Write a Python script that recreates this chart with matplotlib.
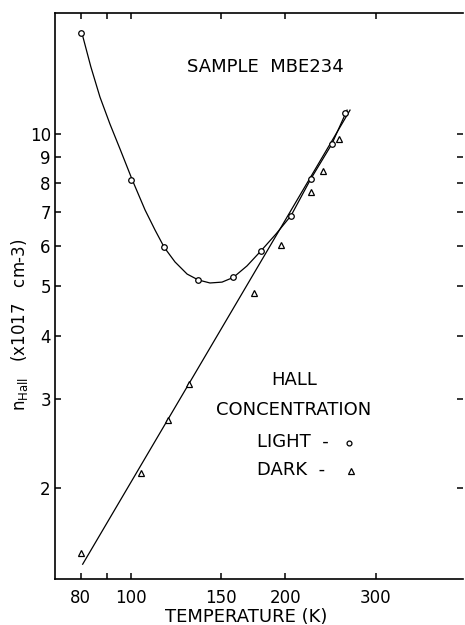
import matplotlib
matplotlib.use('Agg')
from matplotlib import pyplot as plt
from matplotlib.ticker import FixedLocator, FixedFormatter, NullLocator

plt.rcParams['font.family'] = ['DejaVu Sans']
plt.rcParams['mathtext.default'] = 'regular'

LIGHT_T = [80, 100, 116, 135, 158, 179, 205, 224, 246, 261]
LIGHT_N = [15.85, 8.11, 5.97, 5.15, 5.21, 5.88, 6.90, 8.15, 9.54, 11.02]
DARK_T = [80, 105, 118.5, 130, 173.4, 196, 224.3, 237, 254.6]
DARK_N = [1.486, 2.145, 2.725, 3.21, 4.85, 6.05, 7.69, 8.46, 9.76]

# hand-drawn guide curve through the light points
LIGHT_CURVE_T = [80.4, 83.7, 87.2, 91.2, 95.4, 100.8, 106.7, 111.6, 116.3, 122.0, 128.8,
                 135.4, 142.7, 150.6, 158.4, 168.4, 179.3, 191.8, 205.1, 224.0, 246.0, 263.6]
LIGHT_CURVE_N = [15.85, 13.58, 11.83, 10.46, 9.34, 8.11, 7.08, 6.46, 5.97, 5.59, 5.29,
                 5.15, 5.08, 5.10, 5.21, 5.49, 5.88, 6.35, 6.90, 8.15, 9.54, 11.15]
# straight line through the dark points
DARK_LINE_T = [80.7, 267.1]
DARK_LINE_N = [1.414, 11.15]

X_TICKS = [80, 90, 100, 150, 200, 300]
X_LABELS = ['80', '', '100', '150', '200', '300']
Y_TICKS = [2, 3, 4, 5, 6, 7, 8, 9, 10]
Y_LABELS = ['2', '3', '4', '5', '6', '7', '8', '9', '10']


def main():
    fig = plt.figure(figsize=(4.65, 6.25), dpi=100)
    ax = fig.add_axes([0.1183, 0.0736, 0.8774, 0.9056])

    ax.plot(LIGHT_CURVE_T, LIGHT_CURVE_N, color='black', lw=0.9, zorder=2)
    ax.plot(DARK_LINE_T, DARK_LINE_N, color='black', lw=0.9, zorder=2)
    ax.plot(LIGHT_T, LIGHT_N, 'o', mfc='white', mec='black', ms=4, mew=0.9, zorder=3)
    ax.plot(DARK_T, DARK_N, '^', mfc='white', mec='black', ms=4.5, mew=0.9, zorder=3)

    ax.set_xscale('log')
    ax.set_yscale('log')
    ax.set_xlim(71.3, 442.9)
    ax.set_ylim(1.322, 17.34)

    ax.xaxis.set_major_locator(FixedLocator(X_TICKS))
    ax.xaxis.set_major_formatter(FixedFormatter(X_LABELS))
    ax.xaxis.set_minor_locator(NullLocator())
    ax.yaxis.set_major_locator(FixedLocator(Y_TICKS))
    ax.yaxis.set_major_formatter(FixedFormatter(Y_LABELS))
    ax.yaxis.set_minor_locator(NullLocator())

    ax.tick_params(axis='both', which='major', direction='in', length=4.5, width=1.1,
                   top=True, right=True, labelsize=12)
    ax.tick_params(axis='x', pad=7)
    ax.tick_params(axis='y', pad=3)
    for side in ['left', 'bottom', 'top']:
        ax.spines[side].set_linewidth(1.2)
    ax.spines['right'].set_visible(False)

    fig.text(245.8 / 465, 1 - 616.7 / 625, 'TEMPERATURE (K)', ha='center', va='center',
             fontsize=13)
    fig.text(19 / 465, 1 - 325 / 625, 'n$_{Hall}$   (x1017   cm-3)', rotation=90,
             ha='center', va='center', fontsize=12)

    fig.text(265 / 465, 1 - 67 / 625, 'SAMPLE  MBE234', ha='center', va='center', fontsize=13)
    fig.text(294 / 465, 1 - 380 / 625, 'HALL', ha='center', va='center', fontsize=13)
    fig.text(294 / 465, 1 - 410 / 625, 'CONCENTRATION', ha='center', va='center', fontsize=13)
    fig.text(256.7 / 465, 1 - 441.7 / 625, 'LIGHT  -', ha='left', va='center', fontsize=13)
    fig.text(256.7 / 465, 1 - 470 / 625, 'DARK  -', ha='left', va='center', fontsize=13)
    fig.lines.append(plt.Line2D([349 / 465], [1 - 443 / 625], marker='o', ms=3.5, mfc='white',
                                mec='black', mew=0.9, transform=fig.transFigure))
    fig.lines.append(plt.Line2D([350.7 / 465], [1 - 470.5 / 625], marker='^', ms=4, mfc='white',
                                mec='black', mew=0.9, transform=fig.transFigure))

    fig.savefig('out.png', dpi=100)
    plt.close(fig)


if __name__ == '__main__':
    main()
